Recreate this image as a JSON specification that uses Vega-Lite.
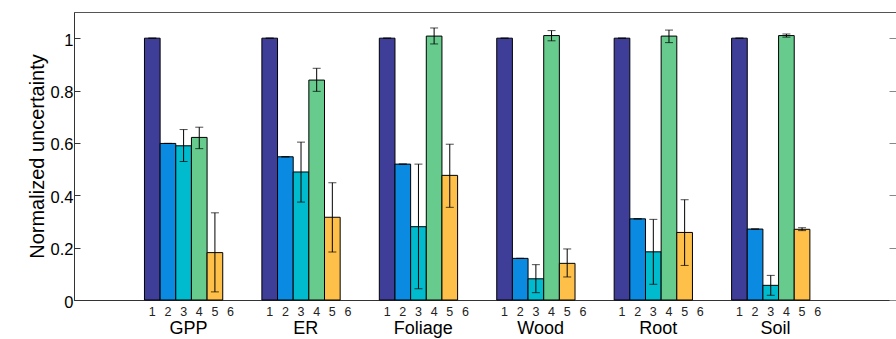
{
  "$schema": "https://vega.github.io/schema/vega-lite/v6.json",
  "width": 822,
  "height": 288,
  "autosize": {"type": "none"},
  "padding": {"left": 74, "top": 12, "right": 0, "bottom": 39},
  "background": "white",
  "config": {
    "font": "Liberation Sans",
    "view": {"stroke": "#555", "strokeWidth": 1},
    "axis": {"labelFont": "Liberation Sans", "titleFont": "Liberation Sans", "labelColor": "black", "titleColor": "black", "grid": false}
  },
  "data": {
    "values": [
      {"group": "GPP", "slot": 1, "value": 1.0, "lo": 1.0, "hi": 1.0},
      {"group": "GPP", "slot": 2, "value": 0.598, "lo": 0.598, "hi": 0.598},
      {"group": "GPP", "slot": 3, "value": 0.589, "lo": 0.529, "hi": 0.651},
      {"group": "GPP", "slot": 4, "value": 0.621, "lo": 0.578, "hi": 0.66},
      {"group": "GPP", "slot": 5, "value": 0.181, "lo": 0.031, "hi": 0.333},
      {"group": "GPP", "slot": 6, "value": null, "lo": null, "hi": null},
      {"group": "ER", "slot": 1, "value": 1.0, "lo": 1.0, "hi": 1.0},
      {"group": "ER", "slot": 2, "value": 0.547, "lo": 0.547, "hi": 0.547},
      {"group": "ER", "slot": 3, "value": 0.489, "lo": 0.374, "hi": 0.603},
      {"group": "ER", "slot": 4, "value": 0.84, "lo": 0.797, "hi": 0.885},
      {"group": "ER", "slot": 5, "value": 0.316, "lo": 0.183, "hi": 0.448},
      {"group": "ER", "slot": 6, "value": null, "lo": null, "hi": null},
      {"group": "Foliage", "slot": 1, "value": 1.0, "lo": 1.0, "hi": 1.0},
      {"group": "Foliage", "slot": 2, "value": 0.519, "lo": 0.519, "hi": 0.519},
      {"group": "Foliage", "slot": 3, "value": 0.28, "lo": 0.043, "hi": 0.519},
      {"group": "Foliage", "slot": 4, "value": 1.008, "lo": 0.978, "hi": 1.039},
      {"group": "Foliage", "slot": 5, "value": 0.476, "lo": 0.354, "hi": 0.595},
      {"group": "Foliage", "slot": 6, "value": null, "lo": null, "hi": null},
      {"group": "Wood", "slot": 1, "value": 1.0, "lo": 1.0, "hi": 1.0},
      {"group": "Wood", "slot": 2, "value": 0.159, "lo": 0.159, "hi": 0.159},
      {"group": "Wood", "slot": 3, "value": 0.081, "lo": 0.028, "hi": 0.135},
      {"group": "Wood", "slot": 4, "value": 1.01, "lo": 0.99, "hi": 1.029},
      {"group": "Wood", "slot": 5, "value": 0.14, "lo": 0.088, "hi": 0.195},
      {"group": "Wood", "slot": 6, "value": null, "lo": null, "hi": null},
      {"group": "Root", "slot": 1, "value": 1.0, "lo": 1.0, "hi": 1.0},
      {"group": "Root", "slot": 2, "value": 0.31, "lo": 0.31, "hi": 0.31},
      {"group": "Root", "slot": 3, "value": 0.184, "lo": 0.06, "hi": 0.308},
      {"group": "Root", "slot": 4, "value": 1.008, "lo": 0.983, "hi": 1.031},
      {"group": "Root", "slot": 5, "value": 0.258, "lo": 0.132, "hi": 0.383},
      {"group": "Root", "slot": 6, "value": null, "lo": null, "hi": null},
      {"group": "Soil", "slot": 1, "value": 1.0, "lo": 1.0, "hi": 1.0},
      {"group": "Soil", "slot": 2, "value": 0.271, "lo": 0.271, "hi": 0.271},
      {"group": "Soil", "slot": 3, "value": 0.056, "lo": 0.018, "hi": 0.094},
      {"group": "Soil", "slot": 4, "value": 1.01, "lo": 1.004, "hi": 1.016},
      {"group": "Soil", "slot": 5, "value": 0.27, "lo": 0.265, "hi": 0.276},
      {"group": "Soil", "slot": 6, "value": null, "lo": null, "hi": null}
    ]
  },
  "encoding": {
    "x": {
      "field": "group", "type": "nominal",
      "sort": ["GPP", "ER", "Foliage", "Wood", "Root", "Soil"],
      "scale": {"paddingInner": 0.2, "paddingOuter": 0.6},
      "axis": {"title": null, "ticks": false, "labelAngle": 0, "labelFontSize": 18, "labelPadding": 19, "labelOffset": -3, "domainColor": "#333", "labelBaseline": "top"}
    },
    "xOffset": {"field": "slot", "type": "ordinal", "scale": {"paddingInner": 0, "paddingOuter": 0}}
  },
  "layer": [
    {
      "mark": {"type": "bar", "stroke": "black", "strokeWidth": 1},
      "encoding": {
        "y": {
          "field": "value", "type": "quantitative",
          "scale": {"domain": [0, 1.1], "nice": false},
          "axis": {"title": "Normalized uncertainty", "titleFontSize": 20, "titleFontWeight": "normal", "titlePadding": 3,
                   "values": [0, 0.2, 0.4, 0.6, 0.8, 1], "format": "~g", "labelFontSize": 16.5, "labelOffset": 2,
                   "tickSize": -6, "labelPadding": 7, "tickColor": "#333", "domainColor": "#333"}
        },
        "color": {
          "field": "slot", "type": "ordinal",
          "scale": {"domain": [1, 2, 3, 4, 5, 6], "range": ["#3e3e98", "#0a8be1", "#00bacd", "#66cb8d", "#ffc04a", "#ffffff"]},
          "legend": null
        }
      }
    },
    {
      "mark": {"type": "rule", "color": "black", "strokeWidth": 1},
      "encoding": {
        "y": {"field": "lo", "type": "quantitative", "axis": null},
        "y2": {"field": "hi"}
      }
    },
    {
      "mark": {"type": "tick", "color": "black", "size": 8, "thickness": 1, "orient": "horizontal"},
      "encoding": {"y": {"field": "lo", "type": "quantitative", "axis": null}}
    },
    {
      "mark": {"type": "tick", "color": "black", "size": 8, "thickness": 1, "orient": "horizontal"},
      "encoding": {"y": {"field": "hi", "type": "quantitative", "axis": null}}
    },
    {
      "mark": {"type": "text", "baseline": "top", "dy": 6, "fontSize": 12.5, "color": "#222"},
      "encoding": {
        "y": {"datum": 0, "type": "quantitative", "axis": null},
        "text": {"field": "slot", "type": "ordinal"}
      }
    },
    {
      "mark": {"type": "rule", "opacity": 0},
      "encoding": {
        "y": {"field": "value", "type": "quantitative",
              "axis": {"orient": "right", "title": null, "labels": false, "domain": false,
                       "values": [0, 0.2, 0.4, 0.6, 0.8, 1], "tickSize": -7, "tickColor": "#888"}}
      }
    }
  ],
  "resolve": {"scale": {"y": "shared"}, "axis": {"y": "independent"}}
}
